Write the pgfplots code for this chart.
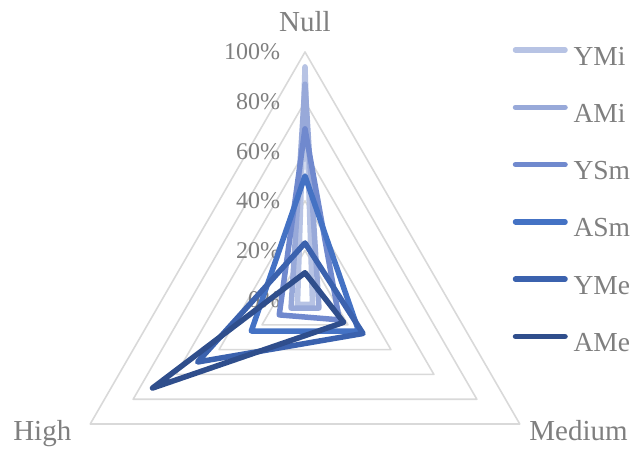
\documentclass[border=0pt]{standalone}
\usepackage{pgfplots}
\pgfplotsset{compat=1.18}
\usepackage{fontspec}
\setmainfont{Liberation Serif}
\definecolor{txt}{HTML}{7F7F7F}
\definecolor{grd}{HTML}{D9D9D9}
\definecolor{cYMi}{HTML}{B7C3E4}
\definecolor{cAMi}{HTML}{98A9D9}
\definecolor{cYSm}{HTML}{7089CE}
\definecolor{cASm}{HTML}{4472C4}
\definecolor{cYMe}{HTML}{3B62AE}
\definecolor{cAMe}{HTML}{2F4E8C}
\begin{document}
\begin{tikzpicture}
\begin{axis}[
  x=248pt, y=248pt,
  xmin=-1.2298, xmax=1.3185, ymin=-0.5968, ymax=1.2097,
  hide axis, clip=false,
  legend cell align=left,
  legend image code/.code={\draw[#1,line cap=round] (0pt,9pt) -- (49.5pt,9pt);},
  legend style={draw=none, fill=none, inner sep=0pt, outer sep=0pt,
    at={(axis cs:0.8377,1.0282)}, anchor=north west,
    row sep=29.3pt, column sep=5.75pt,
    font=\fontsize{27.5}{30}\selectfont\color{txt},
    nodes={inner sep=0pt, text height=20pt, text depth=8pt}},
  every axis plot/.append style={line join=round, line cap=round},
]
% grid triangles
\addplot[draw=grd, line width=1.6pt, data cs=polar, forget plot] coordinates {(90,0.2) (-30,0.2) (210,0.2)} --cycle;
\addplot[draw=grd, line width=1.6pt, data cs=polar, forget plot] coordinates {(90,0.4) (-30,0.4) (210,0.4)} --cycle;
\addplot[draw=grd, line width=1.6pt, data cs=polar, forget plot] coordinates {(90,0.6) (-30,0.6) (210,0.6)} --cycle;
\addplot[draw=grd, line width=1.6pt, data cs=polar, forget plot] coordinates {(90,0.8) (-30,0.8) (210,0.8)} --cycle;
\addplot[draw=grd, line width=1.6pt, data cs=polar, forget plot] coordinates {(90,1.0) (-30,1.0) (210,1.0)} --cycle;
% tick labels
\foreach \r/\l in {0/0,0.2/20,0.4/40,0.6/60,0.8/80,1/100}{
  \edef\tmp{\noexpand\node[anchor=east, inner sep=0pt, text=txt, font=\noexpand\fontsize{24}{26}\noexpand\selectfont] at (axis cs:-0.1,\r) {\l\noexpand\%};}
  \tmp
}
% category labels
\node[anchor=base, inner sep=0pt, text=txt, font=\fontsize{29}{32}\selectfont] at (axis cs:0,1.081) {Null};
\node[anchor=base west, inner sep=0pt, text=txt, font=\fontsize{29}{32}\selectfont] at (axis cs:-1.177,-0.565) {High};
\node[anchor=base east, inner sep=0pt, text=txt, font=\fontsize{29}{32}\selectfont] at (axis cs:1.302,-0.565) {Medium};
% series: (angle, value) with Null=90, Medium=-30, High=210
\addplot[draw=cYMi, line width=5.5pt, data cs=polar] coordinates {(90,0.94) (-30,0.035) (210,0.035)} --cycle;
\addlegendentry{YMi}
\addplot[draw=cAMi, line width=5.5pt, data cs=polar] coordinates {(90,0.87) (-30,0.065) (210,0.065)} --cycle;
\addlegendentry{AMi}
\addplot[draw=cYSm, line width=5.5pt, data cs=polar] coordinates {(90,0.69) (-30,0.16) (210,0.12)} --cycle;
\addlegendentry{YSm}
\addplot[draw=cASm, line width=5.5pt, data cs=polar] coordinates {(90,0.50) (-30,0.25) (210,0.25)} --cycle;
\addlegendentry{ASm}
\addplot[draw=cYMe, line width=5.5pt, data cs=polar] coordinates {(90,0.23) (-30,0.27) (210,0.50)} --cycle;
\addlegendentry{YMe}
\addplot[draw=cAMe, line width=5.5pt, data cs=polar] coordinates {(90,0.11) (-30,0.18) (210,0.71)} --cycle;
\addlegendentry{AMe}
\end{axis}
\pgfresetboundingbox
\useasboundingbox (current axis.south west) rectangle (current axis.north east);
\end{tikzpicture}
\end{document}
